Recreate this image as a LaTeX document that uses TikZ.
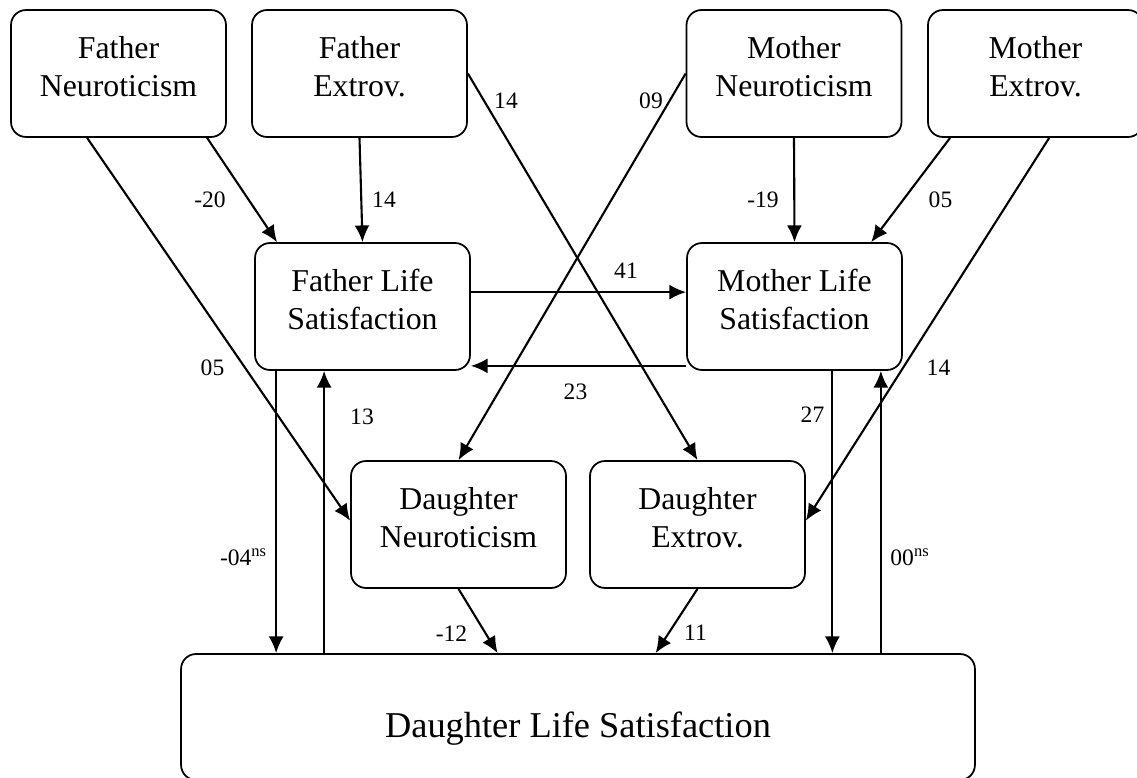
\documentclass[tikz,border=0pt]{standalone}
\usepackage{fontspec}
\setmainfont{Liberation Serif}
\usetikzlibrary{arrows.meta}
\tikzset{% 
  box/.style = {shape=rectangle, rounded corners=0.3cm, draw, line width=1pt,
    minimum width=4.3cm, minimum height=2.54cm},
  boxtext/.style = {align=center, yshift=0.14cm,
    font=\fontsize{18.1}{21.4}\selectfont},
  bigtext/.style = {yshift=-0.24cm, font=\fontsize{20.7}{24}\selectfont},
  coef/.style = {inner sep=0pt, font=\fontsize{13.4}{15}\selectfont},
  link/.style = {draw, line width=1.2pt, -{Latex[length=9.5pt,width=8.5pt]}}
}

\begin{document}
\begin{tikzpicture}[x=0.02cm, y=-0.02cm]
	    \useasboundingbox (0,0) rectangle (1137,778);
	    % parents
	    \node[box, label={[boxtext]center:Father\\Neuroticism}] (fn) at (118.5,73.5) {};
	    \node[box, label={[boxtext]center:Father\\Extrov.}] (fe) at (359.5,73.5) {};
	    \node[box, label={[boxtext]center:Mother\\Neuroticism}] (mn) at (794,73.5) {};
	    \node[box, label={[boxtext]center:Mother\\Extrov.}] (me) at (1035.5,73.5) {};
	    \node[box, label={[boxtext]center:Father Life\\Satisfaction}] (fls) at (362.5,306.5) {};
	    \node[box, label={[boxtext]center:Mother Life\\Satisfaction}] (mls) at (794.5,306.5) {};
	    % daughter
	    \node[box, label={[boxtext]center:Daughter\\Neuroticism}] (dn) at (458.5,524.5) {};
	    \node[box, label={[boxtext]center:Daughter\\Extrov.}] (de) at (697.5,524.5) {};
	    \node[box, minimum width=15.88cm, minimum height=2.52cm,
	      label={[bigtext]center:Daughter Life Satisfaction}] (dls) at (578,717) {};

	    \draw[link] (fn.-36) -- (fls.143);
	    \draw[link] (fe.south) -- (fls.north);
	    \draw[link] (mn.south) -- (mls.north);
	    \draw[link] (me.-143) -- (mls.40);
	    \draw[link] (fn.-116) -- (dn.178);
	    \draw[link] (fe.east) -- (de.north);
	    \draw[link] (mn.west) -- (dn.north);
	    \draw[link] (me.-78) -- (de.2);
	    \draw[link] ([yshift=-1cm]fls.north east) -- ([yshift=-1cm]mls.north west);
	    \draw[link] ([yshift=0.1cm]mls.south west) -- ([yshift=0.1cm]fls.south east);
	    \draw[link] ([xshift=0.44cm]fls.south west) -- ([xshift=0.44cm]fls.south west |- dls.north);
	    \draw[link] ([xshift=1.4cm]fls.south west |- dls.north) -- ([xshift=1.4cm]fls.south west);
	    \draw[link] ([xshift=-1.41cm]mls.south east) -- ([xshift=-1.41cm]mls.south east |- dls.north);
	    \draw[link] ([xshift=-0.44cm]mls.south east |- dls.north) -- ([xshift=-0.44cm]mls.south east);
	    \draw[link] (dn.south) -- ([xshift=6.35cm]dls.north west);
	    \draw[link] (de.south) -- ([xshift=9.51cm]dls.north west);

	    % path coefficients
	    \node[coef] (c1) at (210,200) {-20};
	    \node[coef] (c2) at (384,200) {14};
	    \node[coef] (c3) at (763,200) {-19};
	    \node[coef] (c4) at (940.5,200) {05};
	    \node[coef] (c5) at (506,100.5) {14};
	    \node[coef] (c6) at (651,101) {09};
	    \node[coef] (c7) at (626,271) {41};
	    \node[coef] (c8) at (575.5,392) {23};
	    \node[coef] (c9) at (212.5,368) {05};
	    \node[coef] (c10) at (938.5,368) {14};
	    \node[coef] (c11) at (362,417) {13};
	    \node[coef] (c12) at (812.5,415) {27};
	    \node[coef] (c13) at (243.5,557) {-04\textsuperscript{ns}};
	    \node[coef] (c14) at (910,557) {00\textsuperscript{ns}};
	    \node[coef] (c15) at (451.5,633.5) {-12};
	    \node[coef] (c16) at (695.5,633) {11};
	  \end{tikzpicture}
\end{document}
